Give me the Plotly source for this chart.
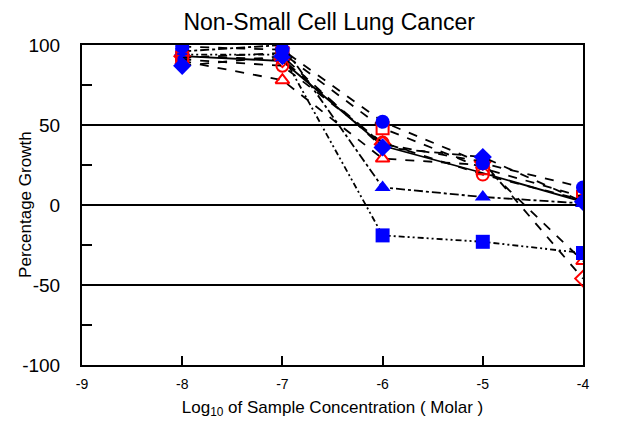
import plotly.graph_objects as go

log_conc = [-8, -7, -6, -5, -4]

blue_circle = [99, 97, 52, 26, 11]
red_square = [92, 95, 48, 23, 5]
blue_diamond = [87, 93, 36, 30, 2]
red_circle = [91, 87, 39, 19, 3]
blue_triangle = [96, 100, 11, 5, 1]
red_triangle = [90, 78, 29, 25, -35]
blue_square = [94, 94, -19, -23, -30]
red_diamond = [93, 91, 38, 27, -46]
solid_line = [93, 90, 37, 20, 2]

y_ticks = [-100, -50, 0, 50, 100]
y_minor = [-75, -25, 25, 75]
x_ticks = [-9, -8, -7, -6, -5, -4]

BLUE = "#0000FF"
RED = "#FF0000"

series = [
    (red_diamond, "diamond-open", RED, "dash", False),
    (red_triangle, "triangle-up-open", RED, "dash", False),
    (blue_square, "square", BLUE, "6px,3px,2px,3px,2px,3px", True),
    (red_circle, "circle-open", RED, "dash", False),
    (blue_triangle, "triangle-up", BLUE, "dashdot", True),
    (red_square, "square-open", RED, "dash", False),
    (blue_diamond, "diamond", BLUE, "dash", True),
    (blue_circle, "circle", BLUE, "dash", True),
]

fig = go.Figure()

fig.add_trace(go.Scatter(x=log_conc, y=solid_line, mode="lines",
                         line=dict(color="black", width=1.8), showlegend=False))

for vals, sym, col, dash, filled in series:
    fig.add_trace(go.Scatter(
        x=log_conc, y=vals, mode="lines+markers",
        line=dict(color="black", width=1.8, dash=dash),
        marker=dict(symbol=sym, size=14 if filled else 12, color=col,
                    line=dict(color=col, width=2 if not filled else 0)),
        showlegend=False))

fig.update_layout(
    width=636, height=416,
    margin=dict(l=74, r=61, t=37, b=59),
    paper_bgcolor="white", plot_bgcolor="white",
    font=dict(family="Liberation Sans, Arial", color="black"),
    title=dict(text="Non-Small Cell Lung Cancer", x=0.505, xanchor="center",
               y=0.966, yanchor="middle", font=dict(size=23)),
    annotations=[dict(text="Percentage Growth", textangle=-90,
                      xref="paper", yref="paper", x=-0.114, y=0.5,
                      xanchor="center", yanchor="middle", showarrow=False,
                      font=dict(size=17))],
)

fig.update_xaxes(
    range=[-9, -4], tickvals=x_ticks, ticktext=[str(v) for v in x_ticks],
    ticks="inside", ticklen=9, tickwidth=2, tickcolor="black",
    showline=True, linecolor="black", linewidth=2, mirror=True,
    showgrid=False, zeroline=False, tickfont=dict(size=14),
    ticklabelstandoff=5, automargin=False,
    title=dict(text="Log<sub>10</sub> of Sample Concentration ( Molar )",
               font=dict(size=17), standoff=10),
)

fig.update_yaxes(
    range=[-100, 100], tickvals=y_ticks, ticktext=[str(v) for v in y_ticks],
    ticks="", showline=True, linecolor="black", linewidth=2, mirror=True,
    showgrid=True, gridcolor="black", gridwidth=1.5, zeroline=False,
    tickfont=dict(size=19), ticklabelstandoff=16, automargin=False,
    minor=dict(tickvals=y_minor, ticks="inside", ticklen=10, tickwidth=2,
               tickcolor="black", showgrid=False),
)

fig.write_html("out.html")
